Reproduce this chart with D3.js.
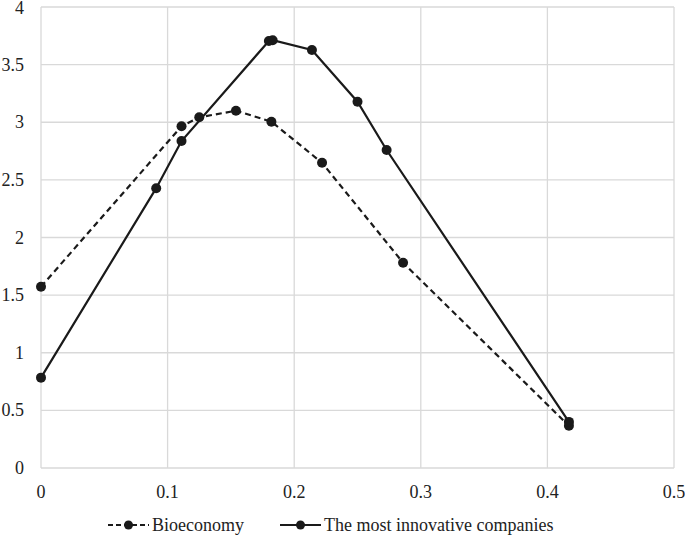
<!DOCTYPE html>
<html lang="en">
<head>
    <meta charset="UTF-8">
    <title>Bioeconomy vs innovative companies</title>
    <script src="https://d3js.org/d3.v7.min.js"></script>
    <style>
        body { margin: 0; background: #fff; }
        .grid line { stroke: #d9d9d9; stroke-width: 1.3; }
        text { font-family: "Liberation Serif", serif; }
    </style>
</head>
<body>
    <svg width="685" height="539"></svg>

    <script>
        // values
        const bioX = [0, 0.111, 0.125, 0.154, 0.182, 0.222, 0.286, 0.417];
        const bioY = [1.573, 2.965, 3.043, 3.100, 3.005, 2.648, 1.781, 0.366];

        const innoX = [0, 0.091, 0.111, 0.180, 0.183, 0.214, 0.250, 0.273, 0.417];
        const innoY = [0.784, 2.428, 2.837, 3.705, 3.712, 3.627, 3.178, 2.759, 0.400];

        const xTicks = [0, 0.1, 0.2, 0.3, 0.4, 0.5];
        const yTicks = [0, 0.5, 1, 1.5, 2, 2.5, 3, 3.5, 4];

        const seriesNames = ["Bioeconomy", "The most innovative companies"];

        const margin = {top: 7, right: 11, bottom: 71, left: 41};
        const width = 685, height = 539;

        const svg = d3.select("svg");
        const x = d3.scaleLinear().domain([0, 0.5]).range([margin.left, width - margin.right]);
        const y = d3.scaleLinear().domain([0, 4]).range([height - margin.bottom, margin.top]);

        // grid
        const grid = svg.append("g").attr("class", "grid");
        grid.selectAll("line.h").data(yTicks).enter().append("line")
            .attr("x1", x(0)).attr("x2", x(0.5))
            .attr("y1", d => y(d)).attr("y2", d => y(d));
        grid.selectAll("line.v").data(xTicks).enter().append("line")
            .attr("y1", y(0)).attr("y2", y(4))
            .attr("x1", d => x(d)).attr("x2", d => x(d));

        // tick labels
        svg.selectAll("text.ylab").data(yTicks).enter().append("text")
            .attr("class", "ylab")
            .attr("font-size", 18)
            .attr("fill", "#222")
            .attr("x", 24)
            .attr("y", d => Math.max(y(d) + 6, 14))
            .attr("text-anchor", "end")
            .text(d => d);

        svg.selectAll("text.xlab").data(xTicks).enter().append("text")
            .attr("class", "xlab")
            .attr("font-size", 18)
            .attr("fill", "#222")
            .attr("x", d => x(d))
            .attr("y", 498)
            .attr("text-anchor", "middle")
            .text(d => d);

        const line = d3.line().x(d => x(d[0])).y(d => y(d[1]));

        const series = [
            {name: seriesNames[0], pts: d3.zip(bioX, bioY), dash: "6,4"},
            {name: seriesNames[1], pts: d3.zip(innoX, innoY), dash: null}
        ];

        series.forEach(s => {
            svg.append("path")
                .datum(s.pts)
                .attr("d", line)
                .attr("fill", "none")
                .attr("stroke", "#1a1a1a")
                .attr("stroke-width", 2.2)
                .attr("stroke-dasharray", s.dash);
            svg.append("g").selectAll("circle").data(s.pts).enter().append("circle")
                .attr("cx", d => x(d[0]))
                .attr("cy", d => y(d[1]))
                .attr("r", 5)
                .attr("fill", "#1a1a1a");
        });

        // legend
        const legendX = [108, 280];
        const legendY = 525;
        series.forEach((s, i) => {
            const g = svg.append("g").attr("transform", `translate(${legendX[i]},${legendY})`);
            g.append("line")
                .attr("x1", 0).attr("x2", 41)
                .attr("y1", 0).attr("y2", 0)
                .attr("stroke", "#1a1a1a")
                .attr("stroke-width", 2.2)
                .attr("stroke-dasharray", s.dash ? "5,3" : null);
            g.append("circle").attr("cx", 20.5).attr("cy", 0).attr("r", 4.5).attr("fill", "#1a1a1a");
            g.append("text")
                .attr("font-size", 18)
                .attr("fill", "#222")
                .attr("x", 44)
                .attr("y", 6)
                .text(s.name);
        });
    </script>
</body>
</html>
